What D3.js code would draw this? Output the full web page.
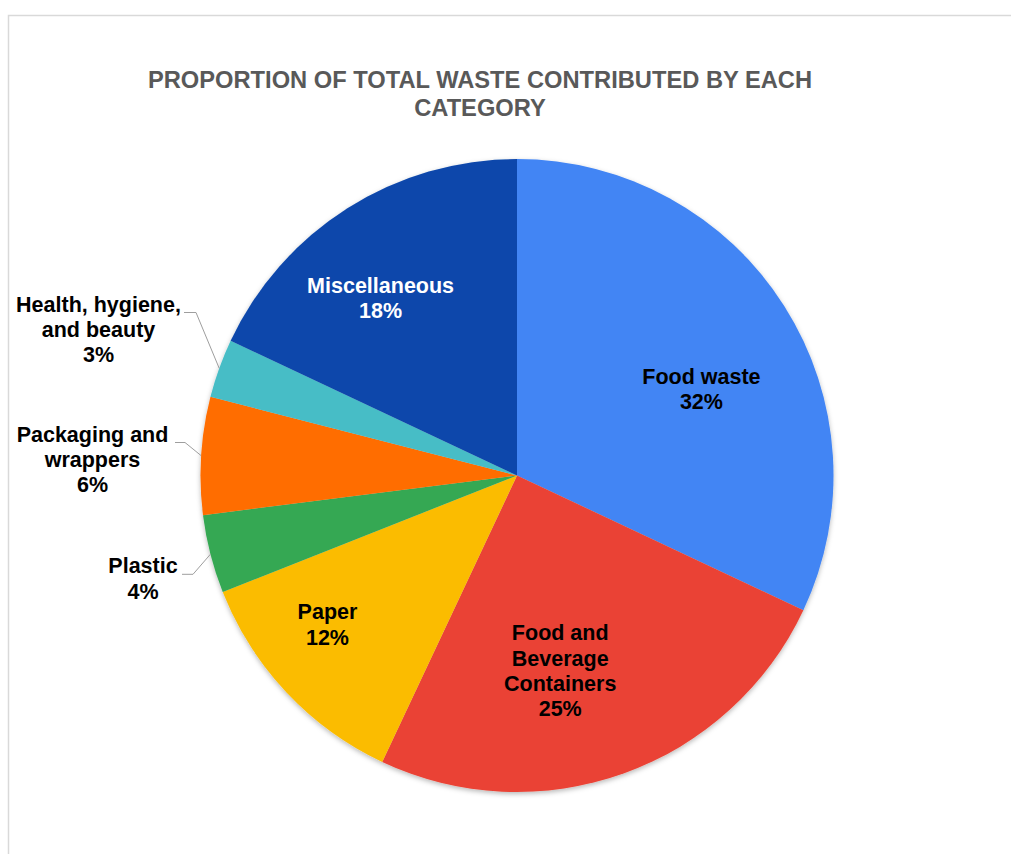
<!DOCTYPE html>
<html>
<head>
<meta charset="utf-8">
<script src="https://cdn.jsdelivr.net/npm/d3@7"></script>
<style>
  html, body { margin: 0; padding: 0; background: #fff; }
  svg { display: block; font-family: "Liberation Sans", Arial, sans-serif; }
</style>
</head>
<body>
<svg id="chart" width="1011" height="854"></svg>
<script>
// Share of total waste by category (percent), clockwise from 12 o'clock
const categories = [
  "Food waste",
  "Food and Beverage Containers",
  "Paper",
  "Plastic",
  "Packaging and wrappers",
  "Health, hygiene, and beauty",
  "Miscellaneous"
];
const shares = [32, 25, 12, 4, 6, 3, 18];
const labelLines = [
  ["Food waste"],
  ["Food and", "Beverage", "Containers"],
  ["Paper"],
  ["Plastic"],
  ["Packaging and", "wrappers"],
  ["Health, hygiene,", "and beauty"],
  ["Miscellaneous"]
];
const sliceColors = ["#4285f4", "#ea4335", "#fbbc04", "#34a853", "#ff6d01", "#46bdc6", "#0b47ab"];
const titleLines = ["PROPORTION OF TOTAL WASTE CONTRIBUTED BY EACH", "CATEGORY"];

// Geometry and label placement
const W = 1011, H = 854;
const cx = 517, cy = 475.5, R = 316.5;
const lineH = 25.3;
const labelFont = 21.5;

// Labels drawn inside their slice: angular nudge (deg) and radius fraction
const insideLabels = {
  0: { shift: 7.2, rFrac: 0.644, fill: "#000" },
  1: { shift: 7.3, rFrac: 0.631, fill: "#000" },
  2: { shift: 5.1, rFrac: 0.761, fill: "#000" },
  6: { shift: -5.1, rFrac: 0.708, fill: "#fff" }
};
// Labels drawn outside with a leader line
const outsideLabels = {
  3: { textX: 143, baseline: 573.3, lineStart: 182, elbow: 193 },
  4: { textX: 92.5, baseline: 441.5, lineStart: 175, elbow: 185 },
  5: { textX: 98.5, baseline: 311.5, lineStart: 184, elbow: 196 }
};

const svg = d3.select("#chart");

// Drop shadow under the pie
const defs = svg.append("defs");
const f = defs.append("filter").attr("id", "pieShadow")
  .attr("x", "-10%").attr("y", "-10%").attr("width", "120%").attr("height", "120%");
f.append("feDropShadow")
  .attr("dx", 0).attr("dy", 2).attr("stdDeviation", 2.5)
  .attr("flood-color", "#000").attr("flood-opacity", 0.28);

// Frame edges
svg.append("path")
  .attr("d", `M8.5,${H} L8.5,15.5 L${W},15.5`)
  .attr("fill", "none").attr("stroke", "#d9d9d9").attr("stroke-width", 1.5);

// Title
svg.append("g").selectAll("text").data(titleLines).join("text")
  .attr("x", 480)
  .attr("y", (d, i) => 88 + i * 27.5)
  .attr("text-anchor", "middle")
  .attr("font-size", 23.7)
  .attr("font-weight", "bold")
  .attr("fill", "#595959")
  .text(d => d);

// Pie
const pie = d3.pie().sort(null).value(d => d)(shares);
const arc = d3.arc().innerRadius(0).outerRadius(R);

const g = svg.append("g").attr("transform", `translate(${cx},${cy})`);
g.append("g").attr("filter", "url(#pieShadow)")
  .selectAll("path").data(pie).join("path")
  .attr("d", arc)
  .attr("fill", (d, i) => sliceColors[i]);

const midAngle = d => (d.startAngle + d.endAngle) / 2;
const polar = (a, r) => [r * Math.sin(a), -r * Math.cos(a)];

// Inside labels
pie.forEach((d, i) => {
  const cfg = insideLabels[i];
  if (!cfg) return;
  const a = midAngle(d) + cfg.shift * Math.PI / 180;
  const [x, y] = polar(a, R * cfg.rFrac);
  const lines = labelLines[i].concat([shares[i] + "%"]);
  const n = lines.length;
  const t = g.append("text")
    .attr("text-anchor", "middle")
    .attr("font-size", labelFont)
    .attr("font-weight", "bold")
    .attr("fill", cfg.fill);
  lines.forEach((s, k) => {
    t.append("tspan")
      .attr("x", x)
      .attr("y", y + (k - (n - 1) / 2) * lineH + labelFont * 0.36)
      .text(s);
  });
});

// Outside labels with leader lines
pie.forEach((d, i) => {
  const cfg = outsideLabels[i];
  if (!cfg) return;
  const [ex, ey] = polar(midAngle(d), R);
  const ly = cfg.baseline + 1;
  svg.append("polyline")
    .attr("points", [[cx + ex, cy + ey], [cfg.elbow, ly], [cfg.lineStart, ly]].map(p => p.join(",")).join(" "))
    .attr("fill", "none")
    .attr("stroke", "#9e9e9e")
    .attr("stroke-width", 1);
  const lines = labelLines[i].concat([shares[i] + "%"]);
  const t = svg.append("text")
    .attr("text-anchor", "middle")
    .attr("font-size", labelFont)
    .attr("font-weight", "bold")
    .attr("fill", "#000");
  lines.forEach((s, k) => {
    t.append("tspan")
      .attr("x", cfg.textX)
      .attr("y", cfg.baseline + k * lineH)
      .text(s);
  });
});
</script>
</body>
</html>
